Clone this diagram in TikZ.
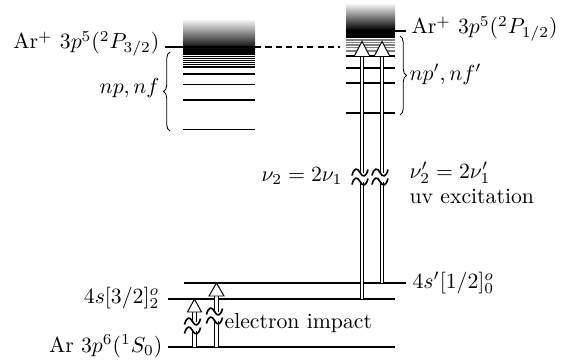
\documentclass[tikz,border=0pt]{standalone}
\usetikzlibrary{arrows.meta, positioning, calc, decorations.pathreplacing}

\begin{document}
\begin{tikzpicture}[
  x=0.46pt, y=-0.46pt,
  every node/.style={inner sep=1pt},
  lev/.style={line width=0.9pt},
  finelev/.style={line width=0.5pt},
  shaft/.style={double, double distance=1.2pt, line width=0.4pt},
  head/.style={draw, fill=white, line width=0.45pt, line join=miter},
  brc/.style={decorate, decoration={brace, amplitude=3pt}, line width=0.4pt},
  brk/.pic={
    \fill[white] (-3.5,-4.5) rectangle (3.5,4.5);
    \draw[line width=0.75pt] (-10,-1.5) .. controls (-8,-9.5) and (-4.5,-9.5) .. (-2,-4.5)
      .. controls (0.5,0.5) and (4,0.5) .. (6,-7.5);
    \draw[line width=0.75pt] (-10,7.5) .. controls (-8,-0.5) and (-4.5,-0.5) .. (-2,4.5)
      .. controls (0.5,9.5) and (4,9.5) .. (6,1.5);
  },
]
\useasboundingbox (0,0) rectangle (572,362);

%% Ionisation limits (shaded continua)
\shade[top color=gray!8, bottom color=black] (183,20) rectangle (255,49);
\fill (183,49) rectangle (255,55);
\shade[top color=gray!8, bottom color=black] (346,4) rectangle (395,30);
\fill (346,30) rectangle (395,37.5);

\draw[lev] (165,47) -- (255,47);
\draw[lev, dash pattern=on 2.8pt off 2pt] (255,47) -- (340,47);
\draw[lev] (395,31) -- (406,31);

%% Rydberg series
\foreach \yy in {56.5,58.5,60.5,62.5,64.5,67}
  \draw[finelev] (183,\yy) -- (255,\yy);
\foreach \yy in {74,84.5,100,129.5}
  \draw[lev] (183,\yy) -- (255,\yy);
\foreach \yy in {40,42.5,45,47.7,51}
  \draw[finelev, gray] (346,\yy) -- (395,\yy);
\foreach \yy in {56,68,83,113}
  \draw[lev] (346,\yy) -- (395,\yy);

\draw[brc] (170,131) -- (170,52);
\draw[brc] (400,36) -- (400,115);

%% Low-lying levels
\draw[lev] (168,347) -- (395,347);
\draw[lev] (168,299) -- (395,299);
\draw[lev] (184,283) -- (406,283);

%% Labels
\node[anchor=east] (limA) at (162,44) {Ar$^+$ $3p^5(^2P_{3/2})$};
\node[anchor=west] (limB) at (409,29) {Ar$^+$ $3p^5(^2P_{1/2})$};
\node[anchor=east] (rydA) at (162,88) {$np,nf$};
\node[anchor=west] (rydB) at (407,74) {$np',nf'$};
\node[anchor=east] (s4) at (162,298) {$4s[3/2]^o_2$};
\node[anchor=west] (s4p) at (410,283) {$4s'[1/2]^o_0$};
\node[anchor=east] (gnd) at (165,346) {Ar $3p^6(^1S_0)$};
\node[anchor=west] (eimp) at (222,323) {electron impact};
\node[anchor=east] (nuA) at (345,176) {$\nu_2=2\nu_1$};
\node[anchor=west] (nuB) at (407,173) {$\nu_2'=2\nu_1'$};
\node[below=0pt of nuB.south west, anchor=north west] (uvx) {uv excitation};

%% Excitation arrows
\coordinate (e1b) at (194.5,347);  \coordinate (e1t) at (194.5,299);
\coordinate (e2b) at (216.5,347);  \coordinate (e2t) at (216.5,283);
\coordinate (u1b) at (362,299);    \coordinate (u1t) at (362,41.5);
\coordinate (u2b) at (382,283);    \coordinate (u2t) at (382,41.5);

\draw[shaft] (e1b) -- ($(e1t)+(0,13)$);
\draw[head] ($(e1t)+(-7,13)$) -- (e1t) -- ($(e1t)+(7,13)$) -- cycle;
\draw[shaft] (e2b) -- ($(e2t)+(0,13)$);
\draw[head] ($(e2t)+(-7.5,13)$) -- (e2t) -- ($(e2t)+(7.5,13)$) -- cycle;
\draw[shaft] (u1b) -- ($(u1t)+(0,15)$);
\draw[head] ($(u1t)+(-8,15)$) -- (u1t) -- ($(u1t)+(8,15)$) -- cycle;
\draw[shaft] (u2b) -- ($(u2t)+(0,15)$);
\draw[head] ($(u2t)+(-8,15)$) -- (u2t) -- ($(u2t)+(8,15)$) -- cycle;

%% Breaks in the energy scale
\pic at (194.5,326) {brk};
\pic at (216.5,316) {brk};
\pic at (362,177) {brk};
\pic at (382,177) {brk};

\end{tikzpicture}
\end{document}
